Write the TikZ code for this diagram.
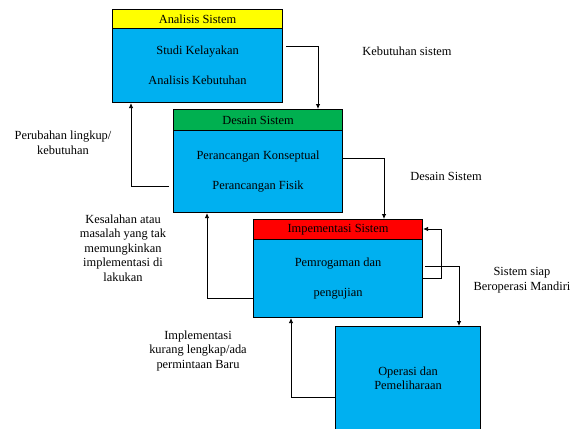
\documentclass[tikz,border=0pt]{standalone}
\usepackage{fontspec}
\setmainfont{Liberation Serif}
\usetikzlibrary{arrows.meta,calc}
\definecolor{boxblue}{HTML}{00B0F0}
\definecolor{boxgreen}{HTML}{00B050}
\definecolor{boxred}{HTML}{FF0000}
\definecolor{boxyellow}{HTML}{FFFF00}
\tikzset{
  boxbase/.style={draw=black, line width=1.1pt, inner sep=0pt, anchor=north west, align=center},
  headbox/.style={boxbase, font=\fontsize{12.4}{14}\selectfont},
  bodybox/.style={boxbase, fill=boxblue, font=\fontsize{12.4}{30}\selectfont},
  conn/.style={draw=black, line width=0.8pt, -{Latex[length=5pt,width=4.5pt]}},
  lbl/.style={align=center, inner sep=0pt, font=\fontsize{12.4}{14.6}\selectfont}
}
\begin{document}
\begin{tikzpicture}[x=1pt,y=-1pt]
\useasboundingbox (0,0) rectangle (575,428);
\clip (0,0) rectangle (575,428);

% Box 1
\node[bodybox, minimum width=170pt, minimum height=74pt] (b1body) at (112,28) {Studi Kelayakan\\Analisis Kebutuhan};
\node[headbox, fill=boxyellow, minimum width=170pt, minimum height=19pt] (b1head) at (112,9) {Analisis Sistem};

% Box 2
\node[bodybox, minimum width=169pt, minimum height=82pt] (b2body) at (173,130) {Perancangan Konseptual\\Perancangan Fisik};
\node[headbox, fill=boxgreen, minimum width=169pt, minimum height=21pt] (b2head) at (173,109) {Desain Sistem};

% Box 3
\node[bodybox, minimum width=169pt, minimum height=78pt] (b3body) at (253,239) {Pemrogaman dan\\pengujian};
\node[headbox, fill=boxred, minimum width=169pt, minimum height=20pt] (b3head) at (253,219) {Impementasi Sistem};

% Box 4 (runs past the bottom edge)
\node[boxbase, fill=boxblue, minimum width=145pt, minimum height=120pt] (b4) at (335,326) {};
\node[align=center, inner sep=0pt, font=\fontsize{12.4}{14}\selectfont] (b4lbl) at ($(b4.north)+(0,52)$) {Operasi dan\\Pemeliharaan};

% Connectors
\draw[conn] (b1body.east |- 0,46) ++(3,0) -| (b2head.north -| 318,0);
\draw[conn] (b2body.east |- 0,158) -| (b3head.north -| 384,0);
\draw[conn] (b2body.west |- 0,186) ++(-4,0) -| (b1body.south -| 131,0);
\draw[conn] (b3body.east |- 0,278) -| (441,229) -- (b3head.east |- 0,229);
\draw[conn] (b3body.east |- 0,266) ++(2,0) -| (b4.north -| 459,0);
\draw[conn] (b3body.west |- 0,298) -| (b2body.south -| 207,0);
\draw[conn] (b4.west |- 0,397) -| (b3body.south -| 291,0);

% Labels
\node[lbl] (l1) at (407,51) {Kebutuhan sistem};
\node[lbl] (l2) at (446,176) {Desain Sistem};
\node[lbl] (l3) at (522,280) {Sistem siap\\Beroperasi Mandiri};
\node[lbl] (l4) at (63,143) {Perubahan lingkup/\\kebutuhan};
\node[lbl] (l5) at (123,248) {Kesalahan atau\\masalah yang tak\\memungkinkan\\implementasi di\\lakukan};
\node[lbl] (l6) at (198,351) {Implementasi\\kurang lengkap/ada\\permintaan Baru};
\end{tikzpicture}
\end{document}
